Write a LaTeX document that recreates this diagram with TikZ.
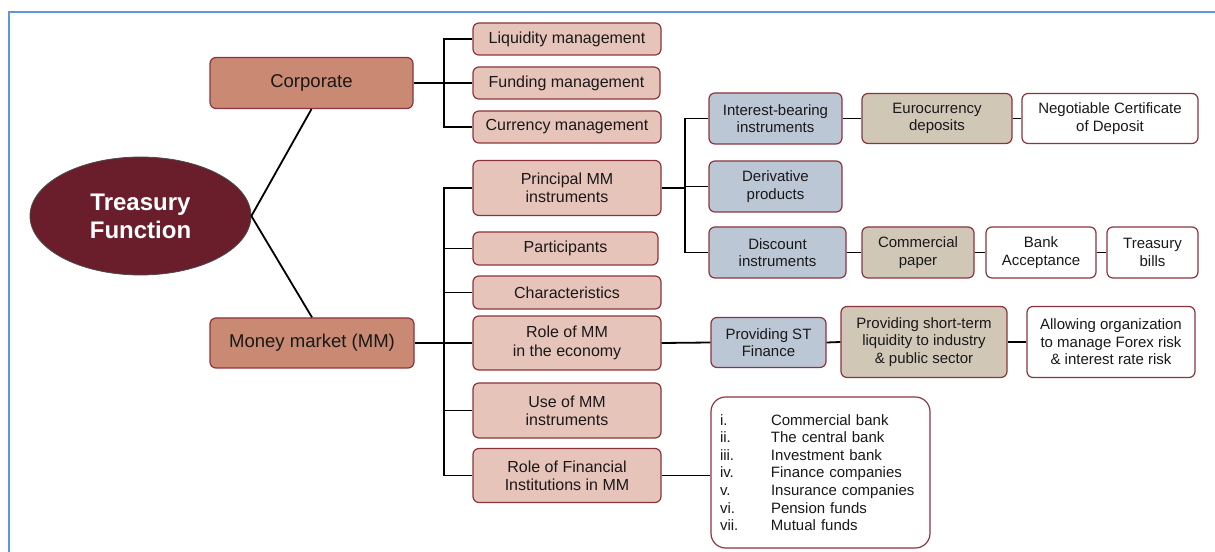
\documentclass[tikz,border=0pt]{standalone}
\usepackage{fontspec}
\setmainfont{Liberation Sans}
\usetikzlibrary{shapes.geometric,calc}
\definecolor{tfcol}{RGB}{106,29,42}
\definecolor{corpcol}{RGB}{201,137,114}
\definecolor{pinkcol}{RGB}{231,196,185}
\definecolor{bluecol}{RGB}{187,199,213}
\definecolor{tancol}{RGB}{208,199,183}
\definecolor{bordcol}{RGB}{140,52,62}
\definecolor{framecol}{RGB}{91,155,213}
\definecolor{txtcol}{RGB}{25,25,25}
\tikzset{
  wh/.style 2 args={minimum width=#1*0.75pt, minimum height=#2*0.75pt},
  basebox/.style={rectangle, rounded corners=4.5pt, draw=bordcol, line width=0.9pt,
    inner sep=0pt, align=center, text=txtcol},
  topbox/.style={basebox, fill=corpcol, font=\fontsize{13.9}{16}\selectfont},
  pinkbox/.style={basebox, fill=pinkcol, font=\fontsize{12}{13.75}\selectfont},
  bluebox/.style={basebox, fill=bluecol, font=\fontsize{11.25}{13.2}\selectfont},
  tanbox/.style={basebox, fill=tancol, font=\fontsize{11.25}{13.2}\selectfont},
  whitebox/.style={basebox, fill=white, font=\fontsize{11.25}{13.2}\selectfont},
  conn/.style={draw=black, line width=1.35pt},
}
\newcommand\itm[2]{\makebox[38.25pt][l]{#1}#2}
\begin{document}
\begin{tikzpicture}[x=0.75pt, y=-0.75pt]
\useasboundingbox (0,0) rectangle (1215,552);
\draw[framecol, line width=2.2pt] (9,552) -- (9,12) -- (1215,12);

% root
\node[ellipse, fill=tfcol, draw=black!70, line width=0.6pt, wh={221}{118}, inner sep=0pt,
  text=white, align=center, font=\bfseries\fontsize{18}{21}\selectfont] (tf) at (140.5,216) {Treasury\\Function};

% level 1
\node[topbox, wh={203}{51}] (corp) at (311.5,83) {Corporate};
\node[topbox, wh={204}{50}] (mm) at (312,343) {Money market (MM)};

% corporate children
\node[pinkbox, wh={188}{32}] (liq) at (567,39) {Liquidity management};
\node[pinkbox, wh={187}{32}] (fund) at (566.5,83) {Funding management};
\node[pinkbox, wh={188}{32}] (curr) at (567,127) {Currency management};

% MM children
\node[pinkbox, wh={188}{55}] (princ) at (567,188) {Principal MM\\instruments};
\node[pinkbox, wh={185}{33}] (part) at (565.5,248.5) {Participants};
\node[pinkbox, wh={188}{33}] (char) at (567,292.5) {Characteristics};
\node[pinkbox, wh={188}{54}] (role) at (567,343) {Role of MM\\in the economy};
\node[pinkbox, wh={188}{55}] (use) at (567,410.5) {Use of MM\\instruments};
\node[pinkbox, wh={188}{54}] (rfi) at (567,475.5) {Role of Financial\\Institutions in MM};

% instruments
\node[bluebox, wh={133}{51}] (ib) at (775.5,118.5) {Interest-bearing\\instruments};
\node[bluebox, wh={133}{51}] (deriv) at (775.5,186.5) {Derivative\\products};
\node[bluebox, wh={137}{51}] (disc) at (777.5,252.5) {Discount\\instruments};
\node[tanbox, wh={150}{50}] (euro) at (937,118.5) {Eurocurrency\\deposits};
\node[whitebox, wh={176}{50}] (ncd) at (1110,118.5) {Negotiable Certificate\\of Deposit};
\node[tanbox, wh={112}{51}] (cp) at (918,252.5) {Commercial\\paper};
\node[whitebox, wh={110}{51}] (ba) at (1041,252.5) {Bank\\Acceptance};
\node[whitebox, wh={91}{51}] (tb) at (1152.5,252.5) {Treasury\\bills};

% role of MM chain
\node[bluebox, wh={115}{50}] (pst) at (768.5,342.5) {Providing ST\\Finance};
\node[tanbox, wh={166}{71}] (pstl) at (924,342) {Providing short-term\\liquidity to industry\\\& public sector};
\node[whitebox, wh={168}{71}] (allow) at (1111,342) {Allowing organization\\to manage Forex risk\\\& interest rate risk};

% list of institutions
\node[whitebox, rounded corners=11pt, wh={219}{151}, align=left, text width=150.75pt] (list) at (820.5,472.5)
 {\itm{i.}{Commercial bank}\\
  \itm{ii.}{The central bank}\\
  \itm{iii.}{Investment bank}\\
  \itm{iv.}{Finance companies}\\
  \itm{v.}{Insurance companies}\\
  \itm{vi.}{Pension funds}\\
  \itm{vii.}{Mutual funds}};

% connectors
\draw[conn] (tf.east) -- (corp.south);
\draw[conn] (tf.east) -- (mm.north);

\coordinate (cb) at (444,83);
\draw[conn] (corp.east) -- (fund.west);
\draw[conn] (liq.west) -| (cb) |- (curr.west);

\coordinate (mb) at (444,343);
\draw[conn] (mm.east) -- (mb);
\draw[conn] (princ.west) -| (mb) |- (rfi.west);
\draw[conn] (part.west) -- (part.west -| mb);
\draw[conn] (char.west) -- (char.west -| mb);
\draw[conn] (role.west) -- (role.west -| mb);
\draw[conn] (use.west) -- (use.west -| mb);

\coordinate (pb) at (685,188);
\draw[conn] (princ.east) -- (pb);
\draw[conn] (ib.west) -| (pb) |- (disc.west);
\draw[conn] (deriv.west -| pb) -- (deriv.west);

\draw[conn] (ib.east) -- (euro.west);
\draw[conn] (euro.east) -- (ncd.west);
\draw[conn] (disc.east) -- (cp.west);
\draw[conn] (cp.east) -- (ba.west);
\draw[conn] (ba.east) -- (tb.west);

\draw[conn] (role.east) -- (pst.west);
\draw[conn] (pst.east) -- (pstl.west);
\draw[conn] (pstl.east) -- (allow.west);
\draw[conn] (rfi.east) -- (rfi.east -| list.west);
\end{tikzpicture}
\end{document}
